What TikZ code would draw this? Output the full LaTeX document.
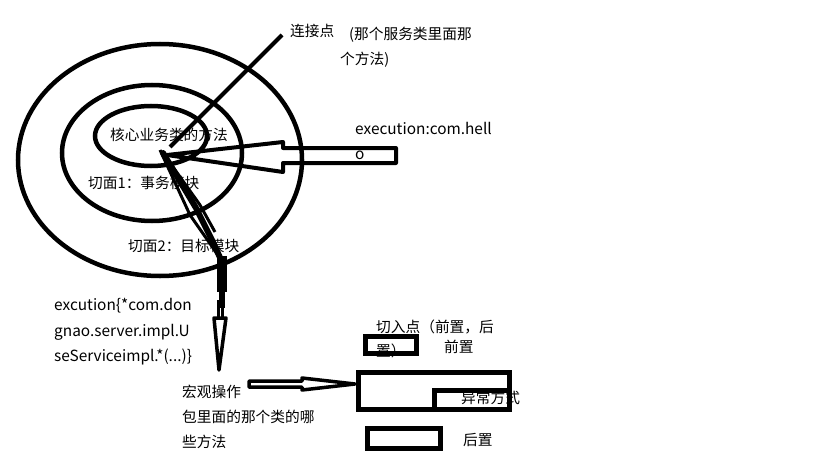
\documentclass[tikz,border=0pt]{standalone}
\usepackage{fontspec}
\setmainfont{Noto Sans CJK SC}
\begin{document}
\begin{tikzpicture}[x=1pt,y=-1pt,
  thick5/.style={line width=4.5pt},
  lbl/.style={anchor=west,inner sep=0pt,font=\fontsize{14.7}{25}\selectfont,text=black},
  latin/.style={lbl,font=\fontsize{15.4}{25.5}\selectfont},
  mlbl/.style={lbl,align=left}]
\useasboundingbox (0,0) rectangle (819,460);
% ellipses
\draw[thick5] (160,160) ellipse [x radius=142, y radius=116];
\draw[thick5] (152,153) ellipse [x radius=90, y radius=68];
\draw[thick5] (151,136) ellipse [x radius=56, y radius=30];
% labels inside target
\node[lbl] (core) at (110,135) {核心业务类的方法};
\node[lbl] (cut1) at (88,183) {切面1：事务模块};
\node[lbl] (cut2) at (128,246) {切面2：目标模块};
% join point line
\coordinate (jp) at (170,147);
\node[lbl] (joinp) at (290,31) {连接点};
\draw[line width=4pt] (jp) -- (282,35);
\node[mlbl] (joinnote) at (340,47) {\hspace*{9pt}(那个服务类里面那\\个方法)};
% hollow arrow from execution
\coordinate (tip1) at (167,155);
\draw[line width=4pt,line join=round] (tip1) -- (283,142) -- (283,148) -- (396,148) -- (396,163) -- (283,163) -- (283,172) -- cycle;
\node[latin] (exec) at (355,128) {execution:com.hell};
\node[latin] (execo) at (355,155) {o};
% scribbled thick stroke
\draw[line width=6pt,line cap=round] (163,153) -- (196,208) -- (212,240) -- (222,262);
\draw[line width=3pt] (168,160) -- (200,205) -- (215,232);
\draw[line width=3pt] (160,150) -- (190,215) -- (218,255);
\draw[line width=10pt] (222,256) -- (222,292);
\draw[line width=6pt] (222,288) -- (222,308);
% down hollow arrow
\coordinate (tip2) at (219,370);
\draw[line width=3.5pt,line join=round] (214,318) -- (tip2) -- (226,318) -- cycle;
\draw[line width=3pt] (218,300) -- (218,318);
\draw[line width=3pt] (222,300) -- (222,318);
\node[latin,align=left] (excution) at (54,332) {excution\{*com.don\\gnao.server.impl.U\\seServiceimpl.*(...)\}};
\node[mlbl] (macro) at (182,417) {宏观操作\\包里面的那个类的哪\\些方法};
% horizontal hollow arrow
\draw[line width=3.5pt,line join=round] (249,381) -- (302,381) -- (302,378) -- (355,384) -- (302,390) -- (302,387) -- (249,387) -- cycle;
% labels on right
\node[lbl] (cutpt) at (376,327) {切入点（前置，后};
\node[lbl] (cutpt2) at (376,351) {置）};
\node[lbl] (pre) at (444,347) {前置};
\node[lbl] (exc) at (461,398) {异常方式};
\node[lbl] (post) at (463,440) {后置};
% boxes
\draw[line width=5pt] (365,336) rectangle (416,353);
\draw[line width=5pt] (358,372) rectangle (509,409);
\draw[line width=5pt] (434,390) rectangle (509,409);
\draw[line width=5pt] (367,428) rectangle (440,448);
\end{tikzpicture}
\end{document}
